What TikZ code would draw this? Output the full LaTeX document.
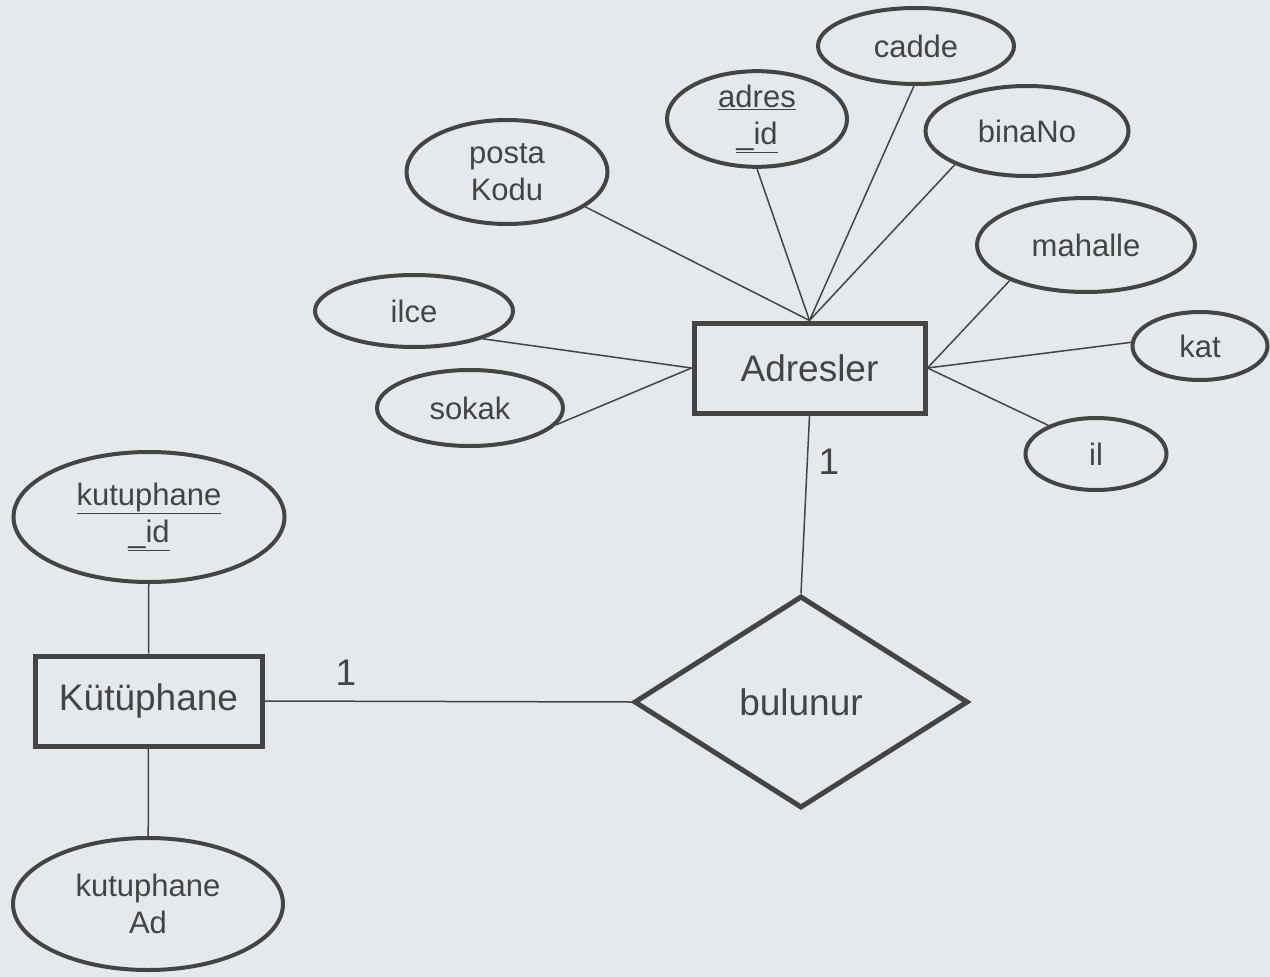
\documentclass[tikz,border=0pt]{standalone}
\usepackage{fontspec}
\setmainfont{Liberation Sans}
\usetikzlibrary{shapes.geometric}
\definecolor{bg}{HTML}{E3E9EC}
\definecolor{ink}{HTML}{444444}
\begin{document}
\begin{tikzpicture}[x=1pt,y=-1pt,
  attr/.style={ellipse,draw=ink,line width=4pt,inner sep=0pt,text=ink,align=center,
    font=\fontsize{31}{37}\selectfont},
  ent/.style={rectangle,draw=ink,line width=5pt,inner sep=0pt,text=ink,
    font=\fontsize{37}{44}\selectfont},
  rel/.style={diamond,draw=ink,line width=5pt,inner sep=0pt,text=ink,
    font=\fontsize{37}{44}\selectfont},
  conn/.style={draw=ink,line width=1.5pt},
  card/.style={text=ink,inner sep=0pt,font=\fontsize{37}{44}\selectfont}]
\fill[bg] (0,0) rectangle (1270,977);
\useasboundingbox (0,0) rectangle (1270,977);

\node[ent,minimum width=231pt,minimum height=90pt] (adr) at (809.5,368) {Adresler};
\node[ent,minimum width=227pt,minimum height=90pt] (kut) at (148.5,701) {Kütüphane};
\node[rel,minimum width=334pt,minimum height=212pt] (bul) at (801,702) {bulunur};

\node[attr,minimum width=196pt,minimum height=76pt] (cadde) at (916,46) {cadde};
\node[attr,minimum width=180pt,minimum height=92pt] (adrid) at (757,119) {\underline{adres}\\\underline{\_id}};
\node[attr,minimum width=203pt,minimum height=90pt] (bina) at (1027,131) {binaNo};
\node[attr,minimum width=201pt,minimum height=104pt] (posta) at (507,172) {posta\\Kodu};
\node[attr,minimum width=218pt,minimum height=94pt] (mah) at (1086,245) {mahalle};
\node[attr,minimum width=198pt,minimum height=72pt] (ilce) at (414,311) {ilce};
\node[attr,minimum width=135pt,minimum height=68pt] (kat) at (1200,346) {kat};
\node[attr,minimum width=186pt,minimum height=76pt] (sokak) at (470,408) {sokak};
\node[attr,minimum width=141pt,minimum height=72pt] (il) at (1096,454) {il};
\node[attr,minimum width=271pt,minimum height=130pt] (kid) at (149,517) {\underline{kutuphane}\\\underline{\_id}};
\node[attr,minimum width=270pt,minimum height=132pt] (kad) at (148,904) {kutuphane\\Ad};

\draw[conn] (posta.336) -- (adr.north);
\draw[conn] (adrid.270) -- (adr.north);
\draw[conn] (cadde.267) -- (adr.north);
\draw[conn] (bina.205) -- (adr.north);
\draw[conn] (mah.205) -- (adr.east);
\draw[conn] (kat.177) -- (adr.east);
\draw[conn] (il.149) -- (adr.east);
\draw[conn] (ilce.338) -- (adr.west);
\draw[conn] (sokak.349) -- (adr.west);
\draw[conn] (adr.south) -- (bul.north);
\draw[conn] (kut.east) -- (bul.west);
\draw[conn] (kid) -- (kut.north);
\draw[conn] (kut.south) -- (kad);

\node[card] (c1) at (829,462) {1};
\node[card] (c2) at (346,673) {1};
\end{tikzpicture}
\end{document}
